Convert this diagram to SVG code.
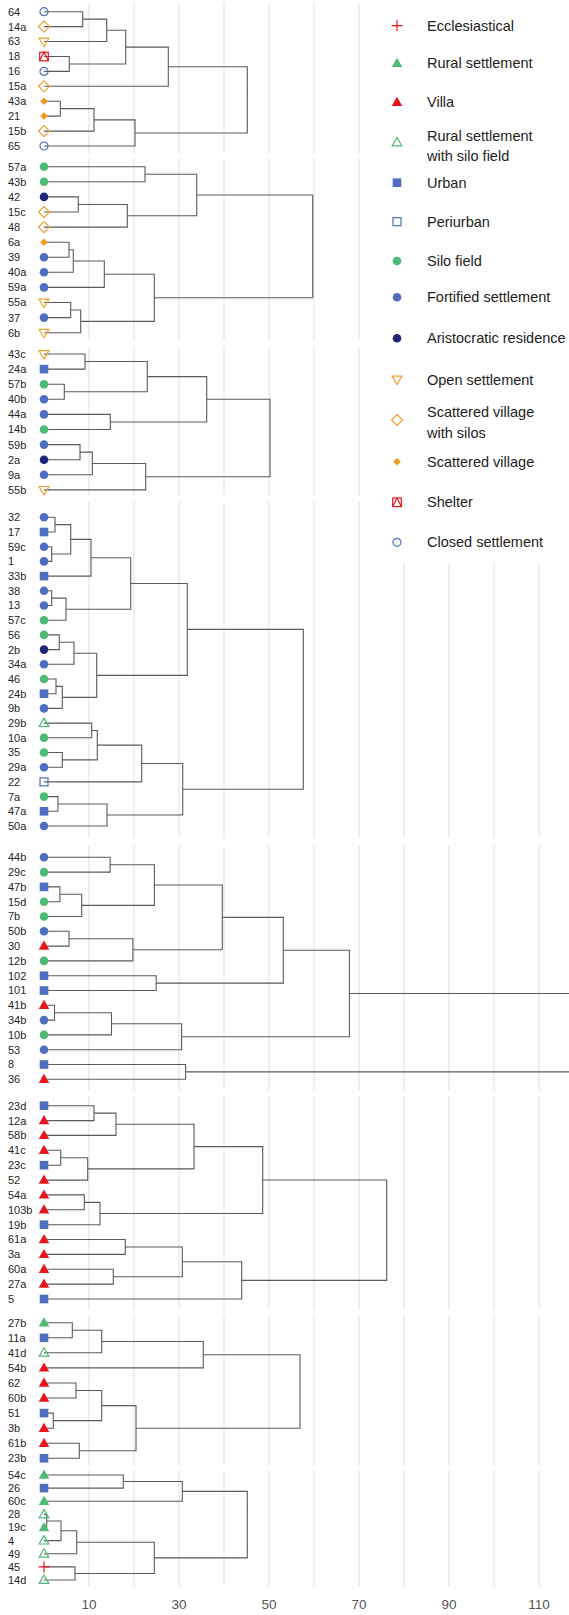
<svg xmlns="http://www.w3.org/2000/svg" width="569" height="1615" viewBox="0 0 569 1615">
<style>
.grid{stroke:#ebebeb;stroke-width:1.6}
.gap{fill:#fff}
.ln{fill:none;stroke:#5a5a5a;stroke-width:1.1}
text{font-family:"Liberation Sans",Arial,sans-serif}
.lbl{font-size:11px;fill:#262626}
.leg{font-size:14.5px;fill:#222}
.ax{font-size:13.5px;fill:#555;text-anchor:middle}
</style>
<defs>
<g id="fort"><circle r="4.3" fill="#4e6ebf"/></g>
<g id="silo"><circle r="4.3" fill="#4dbb74"/></g>
<g id="aristo"><circle r="4.3" fill="#1f2577"/></g>
<g id="closed"><circle r="4" fill="none" stroke="#4e6ebf" stroke-width="1.2"/></g>
<g id="urban"><rect x="-4.3" y="-4.3" width="8.6" height="8.6" fill="#4e6ebf"/></g>
<g id="peri"><rect x="-4" y="-4" width="8" height="8" fill="none" stroke="#4e6ebf" stroke-width="1.2"/></g>
<g id="villa"><path d="M0-5.5L5.3 3.7H-5.3Z" fill="#e8161c"/></g>
<g id="rural"><path d="M0-5.5L5.3 3.7H-5.3Z" fill="#4dbb74"/></g>
<g id="ruralsilo"><path d="M0-5L4.8 3.4H-4.8Z" fill="none" stroke="#4dbb74" stroke-width="1.2"/></g>
<g id="open"><path d="M-5-3.4H5L0 5Z" fill="none" stroke="#f0a030" stroke-width="1.2"/></g>
<g id="scatsilo"><path d="M0-5.5L5.5 0L0 5.5L-5.5 0Z" fill="none" stroke="#f0a030" stroke-width="1.2"/></g>
<g id="scat"><path d="M0-3.8L3.8 0L0 3.8L-3.8 0Z" fill="#f39a1e"/></g>
<g id="shelter"><rect x="-4.3" y="-4.3" width="8.6" height="8.6" fill="none" stroke="#e8161c" stroke-width="1.2"/><path d="M-4.3 4.3L0-4.3L4.3 4.3" fill="none" stroke="#e8161c" stroke-width="1.2"/></g>
<g id="eccl"><path d="M-5.5 0H5.5M0-5.5V5.5" stroke="#e8161c" stroke-width="1.2"/></g>
</defs>
<rect width="569" height="1615" fill="#fff"/>
<g id="grid">
<line class="grid" x1="89" y1="3" x2="89" y2="1586"/>
<line class="grid" x1="134" y1="3" x2="134" y2="1586"/>
<line class="grid" x1="179" y1="3" x2="179" y2="1586"/>
<line class="grid" x1="224" y1="3" x2="224" y2="1586"/>
<line class="grid" x1="269" y1="3" x2="269" y2="1586"/>
<line class="grid" x1="314" y1="3" x2="314" y2="1586"/>
<line class="grid" x1="359" y1="3" x2="359" y2="1586"/>
<line class="grid" x1="404" y1="3" x2="404" y2="1586"/>
<line class="grid" x1="449" y1="3" x2="449" y2="1586"/>
<line class="grid" x1="494" y1="3" x2="494" y2="1586"/>
<line class="grid" x1="539" y1="3" x2="539" y2="1586"/>
<rect class="gap" x="0" y="153" width="569" height="6"/>
<rect class="gap" x="0" y="340" width="569" height="7"/>
<rect class="gap" x="0" y="495" width="569" height="7"/>
<rect class="gap" x="0" y="838" width="569" height="8"/>
<rect class="gap" x="0" y="1090" width="569" height="6"/>
<rect class="gap" x="0" y="1310" width="569" height="5"/>
<rect class="gap" x="0" y="1465" width="569" height="6"/>
<rect class="gap" x="385" y="0" width="184" height="563"/>
</g>
<g id="axis">
<text class="ax" x="89" y="1609">10</text>
<text class="ax" x="179" y="1609">30</text>
<text class="ax" x="269" y="1609">50</text>
<text class="ax" x="359" y="1609">70</text>
<text class="ax" x="449" y="1609">90</text>
<text class="ax" x="539" y="1609">110</text>
</g>
<g id="connectors" class="ln">
<path d="M44 11.7H82.7V26.6H44M82.7 19.15H106.7V41.5H44M44 56.5H69.3V71.4H44M106.7 30.3H125.7V63.95H69.3M125.7 47.1H168.3V86.3H44M44 101.2H60.3V116.1H44M60.3 108.65H94V131.1H44M94 119.9H135V146H44M168.3 66.7H247.3V132.95H135"/>
<path d="M44 166.7H145V181.8H44M44 196.9H78.3V212H44M78.3 204.45H127.3V227.1H44M145 174.25H196.7V215.8H127.3M44 242.2H69V257.2H44M69 249.7H73.3V272.3H44M73.3 261H104.3V287.4H44M44 302.5H70.7V317.6H44M70.7 310.05H80.7V332.7H44M104.3 274.2H154.3V321.4H80.7M196.7 195H312.7V297.8H154.3"/>
<path d="M44 354H85V369.1H44M44 384.2H64.3V399.3H44M85 361.55H147.3V391.75H64.3M44 414.4H110.3V429.5H44M147.3 376.65H206.7V421.95H110.3M44 444.6H80V459.7H44M80 452.15H92.3V474.8H44M92.3 463.5H145.7V489.9H44M206.7 399.3H270V476.7H145.7"/>
<path d="M44 517.3H55V532H44M44 546.7H51.7V561.4H44M55 524.65H70.7V554.05H51.7M70.7 539.35H91V576.1H44M44 590.8H51.7V605.5H44M51.7 598.15H66V620.2H44M91 557.7H130.7V609.2H66M44 634.9H59.3V649.6H44M59.3 642.25H74V664.3H44M44 679H56V693.7H44M56 686.35H62.3V708.4H44M74 653.3H96.7V697.4H62.3M130.7 583.45H187.3V675.35H96.7M44 723.1H91.7V737.8H44M44 752.5H62.3V767.2H44M91.7 730.45H97.3V759.85H62.3M97.3 745.15H141.7V781.9H44M44 796.6H58V811.3H44M58 803.95H107V826H44M141.7 763.5H182.7V814.98H107M187.3 629.4H303.3V789.25H182.7"/>
<path d="M44 857.3H110.1V872.1H44M44 886.9H59.9V901.7H44M59.9 894.3H81.7V916.5H44M110.1 864.7H154.4V905.4H81.7M44 931.3H69V946.1H44M69 938.7H132.9V960.9H44M154.4 885.05H222.3V949.8H132.9M44 975.7H156.2V990.5H44M222.3 917.4H283.3V983.1H156.2M44 1005.3H54.5V1020.1H44M54.5 1012.7H111.5V1034.9H44M111.5 1023.8H181.6V1049.7H44M283.3 950.25H349.4V1036.75H181.6M349.4 993.5H569M44 1064.5H185.6V1079.3H44M185.6 1071.9H569"/>
<path d="M44 1105.7H94V1120.6H44M94 1113.15H116V1135.4H44M44 1150.3H60.7V1165.2H44M60.7 1157.75H87.7V1180.1H44M116 1124.3H194V1168.9H87.7M44 1194.9H84.3V1209.8H44M84.3 1202.35H100V1224.7H44M194 1146.6H262.7V1213.5H100M44 1239.5H125.3V1254.4H44M44 1269.3H113.3V1284.1H44M125.3 1246.95H182.3V1276.7H113.3M182.3 1261.8H241.7V1299H44M262.7 1180.05H386.7V1280.4H241.7"/>
<path d="M44 1322.7H72.3V1337.8H44M72.3 1330.25H101.7V1352.8H44M101.7 1341.5H203.3V1367.9H44M44 1383H76V1398H44M44 1413.1H53.3V1428.2H44M76 1390.5H101.7V1420.65H53.3M44 1443.3H79.3V1458.3H44M101.7 1405.6H136V1450.8H79.3M203.3 1354.7H300V1428.2H136"/>
<path d="M44 1475H123.3V1488.1H44M123.3 1481.55H182.3V1501.3H44M44 1514.4H46.7V1527.5H44M46.7 1520.95H61V1540.6H44M61 1530.8H76.7V1553.8H44M44 1566.9H75V1580H44M76.7 1542.3H154.3V1573.45H75M182.3 1491.4H247.3V1557.9H154.3"/>
</g>
<g id="leaves">
<g id="n-64"><use href="#closed" x="44" y="11.7"/><text class="lbl" x="8" y="15.6">64</text></g>
<g id="n-14a"><use href="#scatsilo" x="44" y="26.6"/><text class="lbl" x="8" y="30.5">14a</text></g>
<g id="n-63"><use href="#open" x="44" y="41.5"/><text class="lbl" x="8" y="45.4">63</text></g>
<g id="n-18"><use href="#shelter" x="44" y="56.5"/><text class="lbl" x="8" y="60.4">18</text></g>
<g id="n-16"><use href="#closed" x="44" y="71.4"/><text class="lbl" x="8" y="75.3">16</text></g>
<g id="n-15a"><use href="#scatsilo" x="44" y="86.3"/><text class="lbl" x="8" y="90.2">15a</text></g>
<g id="n-43a"><use href="#scat" x="44" y="101.2"/><text class="lbl" x="8" y="105.1">43a</text></g>
<g id="n-21"><use href="#scat" x="44" y="116.1"/><text class="lbl" x="8" y="120">21</text></g>
<g id="n-15b"><use href="#scatsilo" x="44" y="131.1"/><text class="lbl" x="8" y="135">15b</text></g>
<g id="n-65"><use href="#closed" x="44" y="146"/><text class="lbl" x="8" y="149.9">65</text></g>

<g id="n-57a"><use href="#silo" x="44" y="166.7"/><text class="lbl" x="8" y="170.6">57a</text></g>
<g id="n-43b"><use href="#silo" x="44" y="181.8"/><text class="lbl" x="8" y="185.7">43b</text></g>
<g id="n-42"><use href="#aristo" x="44" y="196.9"/><text class="lbl" x="8" y="200.8">42</text></g>
<g id="n-15c"><use href="#scatsilo" x="44" y="212"/><text class="lbl" x="8" y="215.9">15c</text></g>
<g id="n-48"><use href="#scatsilo" x="44" y="227.1"/><text class="lbl" x="8" y="231">48</text></g>
<g id="n-6a"><use href="#scat" x="44" y="242.2"/><text class="lbl" x="8" y="246.1">6a</text></g>
<g id="n-39"><use href="#fort" x="44" y="257.2"/><text class="lbl" x="8" y="261.1">39</text></g>
<g id="n-40a"><use href="#fort" x="44" y="272.3"/><text class="lbl" x="8" y="276.2">40a</text></g>
<g id="n-59a"><use href="#fort" x="44" y="287.4"/><text class="lbl" x="8" y="291.3">59a</text></g>
<g id="n-55a"><use href="#open" x="44" y="302.5"/><text class="lbl" x="8" y="306.4">55a</text></g>
<g id="n-37"><use href="#fort" x="44" y="317.6"/><text class="lbl" x="8" y="321.5">37</text></g>
<g id="n-6b"><use href="#open" x="44" y="332.7"/><text class="lbl" x="8" y="336.6">6b</text></g>

<g id="n-43c"><use href="#open" x="44" y="354"/><text class="lbl" x="8" y="357.9">43c</text></g>
<g id="n-24a"><use href="#urban" x="44" y="369.1"/><text class="lbl" x="8" y="373">24a</text></g>
<g id="n-57b"><use href="#silo" x="44" y="384.2"/><text class="lbl" x="8" y="388.1">57b</text></g>
<g id="n-40b"><use href="#fort" x="44" y="399.3"/><text class="lbl" x="8" y="403.2">40b</text></g>
<g id="n-44a"><use href="#fort" x="44" y="414.4"/><text class="lbl" x="8" y="418.3">44a</text></g>
<g id="n-14b"><use href="#silo" x="44" y="429.5"/><text class="lbl" x="8" y="433.4">14b</text></g>
<g id="n-59b"><use href="#fort" x="44" y="444.6"/><text class="lbl" x="8" y="448.5">59b</text></g>
<g id="n-2a"><use href="#aristo" x="44" y="459.7"/><text class="lbl" x="8" y="463.6">2a</text></g>
<g id="n-9a"><use href="#fort" x="44" y="474.8"/><text class="lbl" x="8" y="478.7">9a</text></g>
<g id="n-55b"><use href="#open" x="44" y="489.9"/><text class="lbl" x="8" y="493.8">55b</text></g>

<g id="n-32"><use href="#fort" x="44" y="517.3"/><text class="lbl" x="8" y="521.2">32</text></g>
<g id="n-17"><use href="#urban" x="44" y="532"/><text class="lbl" x="8" y="535.9">17</text></g>
<g id="n-59c"><use href="#fort" x="44" y="546.7"/><text class="lbl" x="8" y="550.6">59c</text></g>
<g id="n-1"><use href="#fort" x="44" y="561.4"/><text class="lbl" x="8" y="565.3">1</text></g>
<g id="n-33b"><use href="#urban" x="44" y="576.1"/><text class="lbl" x="8" y="580">33b</text></g>
<g id="n-38"><use href="#fort" x="44" y="590.8"/><text class="lbl" x="8" y="594.7">38</text></g>
<g id="n-13"><use href="#fort" x="44" y="605.5"/><text class="lbl" x="8" y="609.4">13</text></g>
<g id="n-57c"><use href="#silo" x="44" y="620.2"/><text class="lbl" x="8" y="624.1">57c</text></g>
<g id="n-56"><use href="#silo" x="44" y="634.9"/><text class="lbl" x="8" y="638.8">56</text></g>
<g id="n-2b"><use href="#aristo" x="44" y="649.6"/><text class="lbl" x="8" y="653.5">2b</text></g>
<g id="n-34a"><use href="#fort" x="44" y="664.3"/><text class="lbl" x="8" y="668.2">34a</text></g>
<g id="n-46"><use href="#silo" x="44" y="679"/><text class="lbl" x="8" y="682.9">46</text></g>
<g id="n-24b"><use href="#urban" x="44" y="693.7"/><text class="lbl" x="8" y="697.6">24b</text></g>
<g id="n-9b"><use href="#fort" x="44" y="708.4"/><text class="lbl" x="8" y="712.3">9b</text></g>
<g id="n-29b"><use href="#ruralsilo" x="44" y="723.1"/><text class="lbl" x="8" y="727">29b</text></g>
<g id="n-10a"><use href="#silo" x="44" y="737.8"/><text class="lbl" x="8" y="741.7">10a</text></g>
<g id="n-35"><use href="#silo" x="44" y="752.5"/><text class="lbl" x="8" y="756.4">35</text></g>
<g id="n-29a"><use href="#fort" x="44" y="767.2"/><text class="lbl" x="8" y="771.1">29a</text></g>
<g id="n-22"><use href="#peri" x="44" y="781.9"/><text class="lbl" x="8" y="785.8">22</text></g>
<g id="n-7a"><use href="#silo" x="44" y="796.6"/><text class="lbl" x="8" y="800.5">7a</text></g>
<g id="n-47a"><use href="#urban" x="44" y="811.3"/><text class="lbl" x="8" y="815.2">47a</text></g>
<g id="n-50a"><use href="#fort" x="44" y="826"/><text class="lbl" x="8" y="829.9">50a</text></g>

<g id="n-44b"><use href="#fort" x="44" y="857.3"/><text class="lbl" x="8" y="861.2">44b</text></g>
<g id="n-29c"><use href="#silo" x="44" y="872.1"/><text class="lbl" x="8" y="876">29c</text></g>
<g id="n-47b"><use href="#urban" x="44" y="886.9"/><text class="lbl" x="8" y="890.8">47b</text></g>
<g id="n-15d"><use href="#silo" x="44" y="901.7"/><text class="lbl" x="8" y="905.6">15d</text></g>
<g id="n-7b"><use href="#silo" x="44" y="916.5"/><text class="lbl" x="8" y="920.4">7b</text></g>
<g id="n-50b"><use href="#fort" x="44" y="931.3"/><text class="lbl" x="8" y="935.2">50b</text></g>
<g id="n-30"><use href="#villa" x="44" y="946.1"/><text class="lbl" x="8" y="950">30</text></g>
<g id="n-12b"><use href="#silo" x="44" y="960.9"/><text class="lbl" x="8" y="964.8">12b</text></g>
<g id="n-102"><use href="#urban" x="44" y="975.7"/><text class="lbl" x="8" y="979.6">102</text></g>
<g id="n-101"><use href="#urban" x="44" y="990.5"/><text class="lbl" x="8" y="994.4">101</text></g>
<g id="n-41b"><use href="#villa" x="44" y="1005.3"/><text class="lbl" x="8" y="1009.2">41b</text></g>
<g id="n-34b"><use href="#fort" x="44" y="1020.1"/><text class="lbl" x="8" y="1024">34b</text></g>
<g id="n-10b"><use href="#silo" x="44" y="1034.9"/><text class="lbl" x="8" y="1038.8">10b</text></g>
<g id="n-53"><use href="#fort" x="44" y="1049.7"/><text class="lbl" x="8" y="1053.6">53</text></g>
<g id="n-8"><use href="#urban" x="44" y="1064.5"/><text class="lbl" x="8" y="1068.4">8</text></g>
<g id="n-36"><use href="#villa" x="44" y="1079.3"/><text class="lbl" x="8" y="1083.2">36</text></g>

<g id="n-23d"><use href="#urban" x="44" y="1105.7"/><text class="lbl" x="8" y="1109.6">23d</text></g>
<g id="n-12a"><use href="#villa" x="44" y="1120.6"/><text class="lbl" x="8" y="1124.5">12a</text></g>
<g id="n-58b"><use href="#villa" x="44" y="1135.4"/><text class="lbl" x="8" y="1139.3">58b</text></g>
<g id="n-41c"><use href="#villa" x="44" y="1150.3"/><text class="lbl" x="8" y="1154.2">41c</text></g>
<g id="n-23c"><use href="#urban" x="44" y="1165.2"/><text class="lbl" x="8" y="1169.1">23c</text></g>
<g id="n-52"><use href="#villa" x="44" y="1180.1"/><text class="lbl" x="8" y="1184">52</text></g>
<g id="n-54a"><use href="#villa" x="44" y="1194.9"/><text class="lbl" x="8" y="1198.8">54a</text></g>
<g id="n-103b"><use href="#villa" x="44" y="1209.8"/><text class="lbl" x="8" y="1213.7">103b</text></g>
<g id="n-19b"><use href="#urban" x="44" y="1224.7"/><text class="lbl" x="8" y="1228.6">19b</text></g>
<g id="n-61a"><use href="#villa" x="44" y="1239.5"/><text class="lbl" x="8" y="1243.4">61a</text></g>
<g id="n-3a"><use href="#villa" x="44" y="1254.4"/><text class="lbl" x="8" y="1258.3">3a</text></g>
<g id="n-60a"><use href="#villa" x="44" y="1269.3"/><text class="lbl" x="8" y="1273.2">60a</text></g>
<g id="n-27a"><use href="#villa" x="44" y="1284.1"/><text class="lbl" x="8" y="1288">27a</text></g>
<g id="n-5"><use href="#urban" x="44" y="1299"/><text class="lbl" x="8" y="1302.9">5</text></g>

<g id="n-27b"><use href="#rural" x="44" y="1322.7"/><text class="lbl" x="8" y="1326.6">27b</text></g>
<g id="n-11a"><use href="#urban" x="44" y="1337.8"/><text class="lbl" x="8" y="1341.7">11a</text></g>
<g id="n-41d"><use href="#ruralsilo" x="44" y="1352.8"/><text class="lbl" x="8" y="1356.7">41d</text></g>
<g id="n-54b"><use href="#villa" x="44" y="1367.9"/><text class="lbl" x="8" y="1371.8">54b</text></g>
<g id="n-62"><use href="#villa" x="44" y="1383"/><text class="lbl" x="8" y="1386.9">62</text></g>
<g id="n-60b"><use href="#villa" x="44" y="1398"/><text class="lbl" x="8" y="1401.9">60b</text></g>
<g id="n-51"><use href="#urban" x="44" y="1413.1"/><text class="lbl" x="8" y="1417">51</text></g>
<g id="n-3b"><use href="#villa" x="44" y="1428.2"/><text class="lbl" x="8" y="1432.1">3b</text></g>
<g id="n-61b"><use href="#villa" x="44" y="1443.3"/><text class="lbl" x="8" y="1447.2">61b</text></g>
<g id="n-23b"><use href="#urban" x="44" y="1458.3"/><text class="lbl" x="8" y="1462.2">23b</text></g>

<g id="n-54c"><use href="#rural" x="44" y="1475"/><text class="lbl" x="8" y="1478.9">54c</text></g>
<g id="n-26"><use href="#urban" x="44" y="1488.1"/><text class="lbl" x="8" y="1492">26</text></g>
<g id="n-60c"><use href="#rural" x="44" y="1501.3"/><text class="lbl" x="8" y="1505.2">60c</text></g>
<g id="n-28"><use href="#ruralsilo" x="44" y="1514.4"/><text class="lbl" x="8" y="1518.3">28</text></g>
<g id="n-19c"><use href="#rural" x="44" y="1527.5"/><text class="lbl" x="8" y="1531.4">19c</text></g>
<g id="n-4"><use href="#ruralsilo" x="44" y="1540.6"/><text class="lbl" x="8" y="1544.5">4</text></g>
<g id="n-49"><use href="#ruralsilo" x="44" y="1553.8"/><text class="lbl" x="8" y="1557.7">49</text></g>
<g id="n-45"><use href="#eccl" x="44" y="1566.9"/><text class="lbl" x="8" y="1570.8">45</text></g>
<g id="n-14d"><use href="#ruralsilo" x="44" y="1580"/><text class="lbl" x="8" y="1583.9">14d</text></g>
</g>
<g id="legend">
<g id="lg-eccl"><use href="#eccl" x="397" y="25.7"/><text class="leg" x="427" y="30.8">Ecclesiastical</text></g>
<g id="lg-rural"><use href="#rural" x="397" y="63.2"/><text class="leg" x="427" y="67.8">Rural settlement</text></g>
<g id="lg-villa"><use href="#villa" x="397" y="102.2"/><text class="leg" x="427" y="106.8">Villa</text></g>
<g id="lg-ruralsilo"><use href="#ruralsilo" x="397" y="142.5"/><text class="leg" x="427" y="140.8">Rural settlement</text><text class="leg" x="427" y="161.1">with silo field</text></g>
<g id="lg-urban"><use href="#urban" x="397" y="182.7"/><text class="leg" x="427" y="187.8">Urban</text></g>
<g id="lg-peri"><use href="#peri" x="397" y="221.7"/><text class="leg" x="427" y="226.8">Periurban</text></g>
<g id="lg-silo"><use href="#silo" x="397" y="261"/><text class="leg" x="427" y="266.1">Silo field</text></g>
<g id="lg-fort"><use href="#fort" x="397" y="297.3"/><text class="leg" x="427" y="302.4">Fortified settlement</text></g>
<g id="lg-aristo"><use href="#aristo" x="397" y="338.3"/><text class="leg" x="427" y="343.4">Aristocratic residence</text></g>
<g id="lg-open"><use href="#open" x="397" y="379.5"/><text class="leg" x="427" y="385.1">Open settlement</text></g>
<g id="lg-scatsilo"><use href="#scatsilo" x="397" y="420"/><text class="leg" x="427" y="416.8">Scattered village</text><text class="leg" x="427" y="437.8">with silos</text></g>
<g id="lg-scat"><use href="#scat" x="397" y="461.7"/><text class="leg" x="427" y="466.8">Scattered village</text></g>
<g id="lg-shelter"><use href="#shelter" x="397" y="502.3"/><text class="leg" x="427" y="507.4">Shelter</text></g>
<g id="lg-closed"><use href="#closed" x="397" y="542.3"/><text class="leg" x="427" y="547.4">Closed settlement</text></g>
</g>
</svg>
